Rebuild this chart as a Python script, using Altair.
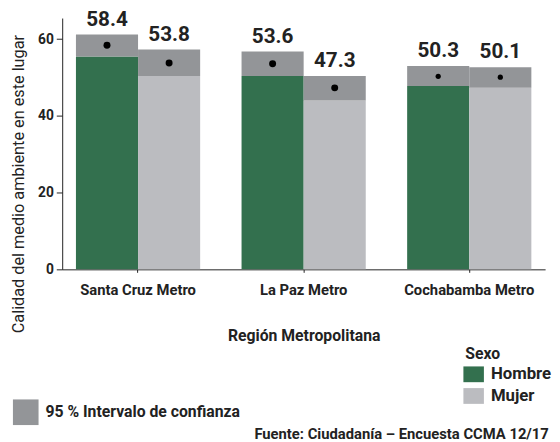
import altair as alt
import pandas as pd

regions = ["Santa Cruz Metro", "Santa Cruz Metro", "La Paz Metro", "La Paz Metro",
           "Cochabamba Metro", "Cochabamba Metro"]
sexo = ["Hombre", "Mujer", "Hombre", "Mujer", "Hombre", "Mujer"]
means = [58.4, 53.8, 53.6, 47.3, 50.3, 50.1]
ci_low = [55.5, 50.4, 50.4, 44.0, 47.8, 47.3]
ci_high = [61.2, 57.3, 56.8, 50.4, 53.0, 52.7]
dot_size = [50, 50, 50, 50, 28, 28]

region_order = ["Santa Cruz Metro", "La Paz Metro", "Cochabamba Metro"]
sexo_order = ["Hombre", "Mujer"]
ci_name = "95 % Intervalo de confianza"

df = pd.DataFrame({
    "region": regions, "sexo": sexo, "mean": means,
    "lo": ci_low, "hi": ci_high, "size": dot_size,
})
df["ci"] = ci_name

FONT = "Roboto"
TXT = "#222222"

x_enc = alt.X("region:N", sort=region_order,
              scale=alt.Scale(paddingInner=0.25, paddingOuter=0.083),
              axis=alt.Axis(title="Región Metropolitana", labelAngle=0,
                            labelFont=FONT, labelFontWeight="bold", labelFontSize=15,
                            labelColor=TXT, labelPadding=11, tickSize=3,
                            titleFont=FONT, titleFontWeight="bold", titleFontSize=16,
                            titleColor=TXT, titlePadding=30,
                            domainColor="#222222", tickColor="#222222"))
xo_enc = alt.XOffset("sexo:N", sort=sexo_order,
                     scale=alt.Scale(paddingInner=0, paddingOuter=0))

y_scale = alt.Scale(domain=[0, 65.5], nice=False)

base = alt.Chart(df)

bars = base.mark_bar().encode(
    x=x_enc, xOffset=xo_enc,
    y=alt.Y("lo:Q", scale=y_scale,
            axis=alt.Axis(title="Calidad del medio ambiente en este lugar",
                          values=[0, 20, 40, 60], grid=False,
                          labelFont=FONT, labelFontWeight="bold", labelFontSize=14,
                          labelColor=TXT, labelPadding=3, tickSize=6,
                          domainColor="#222222", tickColor="#222222",
                          titleFont=FONT, titleFontWeight="normal", titleFontSize=16.5,
                          titleColor=TXT, titleAngle=270, titleX=-39, titleY=168,
                          titleBaseline="alphabetic", titleAlign="center")),
    y2=alt.datum(0),
    color=alt.Color("sexo:N", sort=sexo_order,
                    scale=alt.Scale(domain=sexo_order, range=["#33704E", "#BBBCC0"]),
                    legend=alt.Legend(title="Sexo", orient="none", legendX=409, legendY=333,
                                      titleFont=FONT, titleFontWeight="bold", titleFontSize=16,
                                      titleColor=TXT, titlePadding=4,
                                      labelFont=FONT, labelFontWeight="bold", labelFontSize=17,
                                      labelColor=TXT, labelOffset=9, labelLimit=0,
                                      symbolType="M-1.3,-1L1.3,-1L1.3,1L-1.3,1Z",
                                      symbolSize=256, symbolStrokeWidth=0, symbolOpacity=1,
                                      rowPadding=4)),
)

ci = base.mark_bar().encode(
    x=x_enc, xOffset=xo_enc,
    y=alt.Y("hi:Q", scale=y_scale),
    y2="lo:Q",
    color=alt.Color("ci:N",
                    scale=alt.Scale(domain=[ci_name], range=["#939598"]),
                    legend=alt.Legend(title=None, orient="none", legendX=-50, legendY=387,
                                      labelFont=FONT, labelFontWeight="bold", labelFontSize=16,
                                      labelColor=TXT, labelOffset=7, labelLimit=0,
                                      symbolType="square", symbolSize=676,
                                      symbolStrokeWidth=0, symbolOpacity=1)),
)

dots = base.mark_circle(color="black", opacity=1).encode(
    x=x_enc, xOffset=xo_enc,
    y=alt.Y("mean:Q", scale=y_scale),
    size=alt.Size("size:Q", scale=None),
)

labels = base.mark_text(font=FONT, fontWeight="bold", fontSize=21, color=TXT,
                        baseline="bottom", dy=-5).encode(
    x=x_enc, xOffset=xo_enc,
    y=alt.Y("hi:Q", scale=y_scale),
    text=alt.Text("mean:Q", format=".1f"),
)

chart = alt.layer(bars, ci, dots, labels).resolve_scale(
    color="independent"
).properties(
    width=490, height=255,
    autosize=alt.AutoSizeParams(type="none"),
    padding={"left": 55, "top": 7, "right": 7, "bottom": 172},
    title=alt.TitleParams("Fuente: Ciudadanía – Encuesta CCMA 12/17", orient="bottom",
                          anchor="start", frame="group", dx=195, offset=2, font=FONT,
                          fontWeight="bold", fontSize=15, color=TXT),
).configure_view(stroke=None)

chart.save("out.html", embed_options={"renderer": "svg", "actions": False})
